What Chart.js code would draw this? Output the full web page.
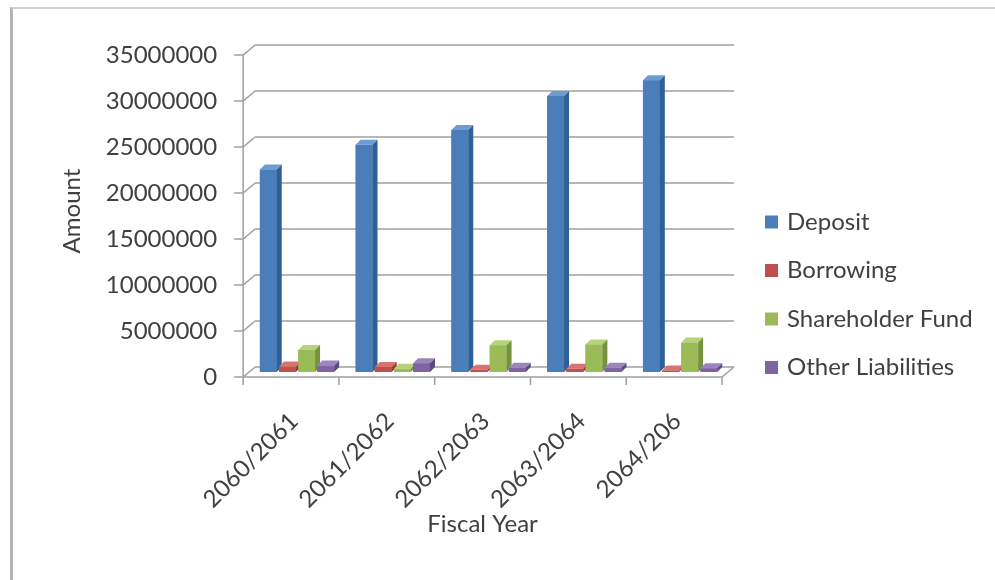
<!DOCTYPE html>
<html>
<head>
<meta charset="utf-8">
<script src="https://cdn.jsdelivr.net/npm/chart.js@4.4.1/dist/chart.umd.min.js"></script>
<style>
  html, body { margin: 0; padding: 0; background: #fff; }
  #wrap { position: relative; width: 995px; height: 580px; }
  #frame { position: absolute; left: 10px; top: 7px; right: 0; bottom: 0; border-left: 3px solid #b4b4b4; border-top: 2px solid #d0d0d0; pointer-events: none; }
</style>
</head>
<body>
<div id="wrap">
  <canvas id="chart" width="995" height="580"></canvas>
  <div id="frame"></div>
</div>
<script>
// fiscal years and amounts
const years = ['2060/2061', '2061/2062', '2062/2063', '2063/2064', '2064/206'];
const deposit = [22000000, 24700000, 26300000, 30000000, 31700000];
const borrowing = [600000, 550000, 250000, 350000, 150000];
const shareholderFund = [2400000, 350000, 2900000, 3000000, 3200000];
const otherLiabilities = [700000, 950000, 450000, 450000, 400000];
const yTicks = [0, 5000000, 10000000, 15000000, 20000000, 25000000, 30000000, 35000000];

const seriesNames = ['Deposit', 'Borrowing', 'Shareholder Fund', 'Other Liabilities'];
const faceColors = ['#4a7ebb', '#c0504d', '#9bbb59', '#8064a2'];
const sideColors = ['#2f5f97', '#943c3a', '#76923f', '#5f4a7c'];
const topColors = ['#6f9bd3', '#d77472', '#b5d27c', '#9c84bd'];

const textColor = '#404040';
const lineColor = '#a0a0a0';
const font = { family: 'Lato', size: 24 };

// half of the depth offset of the fake 3D box
const DX = 6, DY = 5;
// depth of each bar
const BD = 5;

const box3d = {
  id: 'box3d',
  beforeDatasetsDraw(chart) {
    const { ctx, chartArea: a, scales: { y } } = chart;
    ctx.save();
    ctx.strokeStyle = lineColor;
    ctx.lineWidth = 1.5;
    yTicks.forEach((v) => {
      const py = y.getPixelForValue(v);
      ctx.beginPath();
      ctx.moveTo(a.left - DX - 9, py + DY);
      ctx.lineTo(a.left - DX, py + DY);
      ctx.lineTo(a.left + DX, py - DY);
      ctx.lineTo(a.right + DX, py - DY);
      ctx.stroke();
    });
    const y0 = y.getPixelForValue(0);
    const yTop = y.getPixelForValue(yTicks[yTicks.length - 1]);
    ctx.beginPath();
    ctx.moveTo(a.left - DX, yTop + DY);
    ctx.lineTo(a.left - DX, y0 + DY);
    ctx.lineTo(a.right - DX, y0 + DY);
    ctx.lineTo(a.right + DX, y0 - DY);
    ctx.stroke();
    // category tick marks on the front edge
    const step = (a.right - a.left) / years.length;
    for (let i = 0; i <= years.length; i++) {
      const px = a.left + step * i - DX;
      ctx.beginPath();
      ctx.moveTo(px, y0 + DY);
      ctx.lineTo(px, y0 + DY + 8);
      ctx.stroke();
    }
    ctx.restore();
  },
  afterDatasetsDraw(chart) {
    const { ctx } = chart;
    ctx.save();
    years.forEach((_, i) => {
      chart.data.datasets.forEach((ds, d) => {
        const el = chart.getDatasetMeta(d).data[i];
        const { x, y, base, width } = el.getProps(['x', 'y', 'base', 'width'], true);
        const l = x - width / 2, r = x + width / 2;
        ctx.fillStyle = faceColors[d];
        ctx.fillRect(l, y, width, base - y);
        ctx.fillStyle = topColors[d];
        ctx.beginPath();
        ctx.moveTo(l, y);
        ctx.lineTo(l + BD, y - BD);
        ctx.lineTo(r + BD, y - BD);
        ctx.lineTo(r, y);
        ctx.closePath();
        ctx.fill();
        ctx.fillStyle = sideColors[d];
        ctx.beginPath();
        ctx.moveTo(r, y);
        ctx.lineTo(r + BD, y - BD);
        ctx.lineTo(r + BD, base - BD);
        ctx.lineTo(r, base);
        ctx.closePath();
        ctx.fill();
      });
    });
    ctx.restore();
  }
};

// legend on the right and the x axis title, drawn by hand so their spacing can be set freely
const sideLegend = {
  id: 'sideLegend',
  afterDraw(chart) {
    const { ctx, chartArea: a } = chart;
    ctx.save();
    ctx.font = '24px Lato';
    ctx.textBaseline = 'middle';
    ctx.textAlign = 'left';
    chart.data.datasets.forEach((ds, d) => {
      const cy = a.top + 172 + d * 48.5;
      ctx.fillStyle = ds.backgroundColor;
      ctx.fillRect(a.right + 37, cy - 6.5, 13, 13);
      ctx.fillStyle = textColor;
      ctx.fillText(ds.label, a.right + 59, cy);
    });
    ctx.textAlign = 'center';
    ctx.fillText('Fiscal Year', (a.left + a.right) / 2 - DX, a.bottom + 152);
    ctx.restore();
  }
};

const seriesData = [deposit, borrowing, shareholderFund, otherLiabilities];

function drawChart() {
  new Chart(document.getElementById('chart'), {
    type: 'bar',
    data: {
      labels: years,
      datasets: seriesNames.map((name, d) => ({
        label: name,
        data: seriesData[d],
        backgroundColor: faceColors[d],
        borderWidth: 0,
        categoryPercentage: 0.8,
        barPercentage: 0.88,
      })),
    },
    options: {
      responsive: false,
      animation: false,
      events: [],
      layout: { padding: { left: 54, right: 267, top: 50, bottom: 56 } },
      plugins: {
        tooltip: { enabled: false },
        legend: { display: false },
      },
      scales: {
        x: {
          grid: { display: false, drawTicks: false },
          border: { display: false },
          ticks: { font: font, color: textColor, minRotation: 45, maxRotation: 45, padding: 35, labelOffset: -3 },
          // room for the rotated labels and the hand drawn title
          afterFit(scale) { scale.height = 152; },
        },
        y: {
          min: 0,
          max: 35000000,
          grid: { display: false, drawTicks: false },
          border: { display: false },
          ticks: { stepSize: 5000000, font: font, color: textColor, padding: 32, labelOffset: 5, callback: (v) => String(v) },
          title: { display: true, text: 'Amount', font: font, color: textColor, padding: { top: 4, bottom: -13 } },
        },
      },
    },
    plugins: [box3d, sideLegend],
  });
}

// make sure Lato is ready before Chart.js measures the labels
document.fonts.load('24px Lato').then(drawChart, drawChart);
</script>
</body>
</html>
